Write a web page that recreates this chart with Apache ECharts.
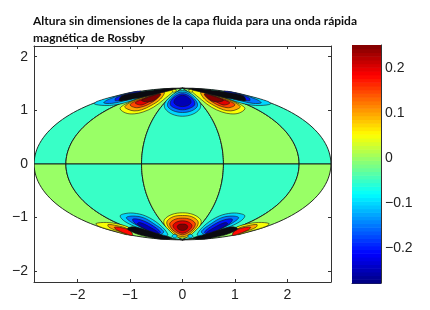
<!DOCTYPE html>
<html><head><meta charset="utf-8">
<style>html,body{margin:0;padding:0;background:#fff}#c{width:430px;height:310px}</style>
<script src="https://cdn.jsdelivr.net/npm/echarts@6/dist/echarts.min.js"></script>
</head><body><div id="c"></div>
<script>
const titleLines = ["Altura sin dimensiones de la capa fluida para una onda rápida","magnética de Rossby"];
const xTicks = [-2,-1,0,1,2];
const yTicks = [-2,-1,0,1,2];
const barTicks = [-0.2,-0.1,0,0.1,0.2];
const colourMin = -0.277, colourMax = 0.251;
// meridian zero-contours (longitude in units of pi) and the level of each sector
const sectorEdges = [-1,-0.75,-0.25,0.25,0.75,1];
const northSectorLevels = [-0.05,0,-0.05,0,-0.05];
const southSectorLevels = [0,-0.05,0,-0.05,0];
// contour outlines: [level, [x,y]...]
const northCentre = [
 [-0.1,[[0,0.89],[0.2,0.93],[0.33,1.03],[0.34,1.13],[0.24,1.25],[0.1,1.35],[0,1.37]]],
 [-0.15,[[0,0.96],[0.17,0.99],[0.28,1.07],[0.27,1.16],[0.18,1.26],[0.08,1.33],[0,1.34]]],
 [-0.2,[[0,1.01],[0.14,1.04],[0.23,1.1],[0.22,1.18],[0.14,1.26],[0,1.31]]],
 [-0.25,[[0,1.07],[0.1,1.09],[0.16,1.14],[0.15,1.2],[0.08,1.26],[0,1.28]]]
];
const southCentre = [
 [0.05,[[0,-0.91],[0.2,-0.94],[0.34,-1.03],[0.35,-1.12],[0.24,-1.25],[0.1,-1.36],[0,-1.38]]],
 [0.1,[[0,-0.96],[0.17,-0.98],[0.29,-1.06],[0.29,-1.14],[0.2,-1.25],[0.08,-1.34],[0,-1.35]]],
 [0.15,[[0,-1.01],[0.14,-1.03],[0.24,-1.1],[0.23,-1.17],[0.16,-1.25],[0,-1.32]]],
 [0.2,[[0,-1.06],[0.11,-1.08],[0.18,-1.14],[0.16,-1.2],[0.09,-1.26],[0,-1.29]]],
 [0.25,[[0,-1.12],[0.07,-1.13],[0.1,-1.17],[0.07,-1.22],[0,-1.24]]]
];
const northCool = [
 [-0.1,[[0.75,1.27],[1.1,1.14],[1.3,1.1],[1.48,1.09],[1.68,1.12],[1.62,1.17],[1.3,1.26],[0.9,1.34]]],
 [-0.15,[[0.85,1.27],[1.15,1.17],[1.35,1.13],[1.5,1.14],[1.42,1.2],[1.15,1.29],[0.85,1.35]]],
 [-0.2,[[0.8,1.3],[1.1,1.21],[1.28,1.18],[1.27,1.23],[1.05,1.31],[0.8,1.36]]]
];
const northWarm = [
 [0.05,[[0.36,1.2],[0.55,1.06],[0.75,0.97],[0.92,0.935],[1.08,0.95],[1.19,1.03],[1.12,1.1],[0.9,1.2],[0.6,1.29],[0.3,1.37],[0.15,1.39]]],
 [0.1,[[0.42,1.21],[0.6,1.09],[0.78,1.01],[0.92,0.99],[1.04,1.02],[1.1,1.07],[0.95,1.17],[0.65,1.27],[0.35,1.34]]],
 [0.15,[[0.47,1.23],[0.65,1.11],[0.85,1.05],[0.96,1.07],[1.0,1.11],[0.85,1.19],[0.6,1.27],[0.42,1.31]]],
 [0.2,[[0.5,1.25],[0.7,1.13],[0.8,1.1],[0.9,1.14],[0.75,1.21],[0.55,1.28]]],
 [0.25,[[0.42,1.29],[0.55,1.18],[0.7,1.16],[0.78,1.19],[0.6,1.26],[0.45,1.31]]]
];
const northDense = [[0.12,1.4],[0.4,1.33],[0.7,1.26],[0.95,1.21],[1.2,1.18],[1.16,1.27],[0.9,1.33],[0.5,1.385],[0.2,1.41]];
const southCool = [
 [-0.1,[[0.28,-1.31],[0.45,-1.12],[0.7,-0.97],[0.94,-0.915],[1.12,-0.93],[1.19,-0.97],[1.1,-1.07],[0.85,-1.19],[0.55,-1.3],[0.35,-1.36]]],
 [-0.15,[[0.36,-1.26],[0.55,-1.11],[0.75,-1.0],[0.95,-0.97],[1.07,-1.0],[0.95,-1.1],[0.7,-1.22],[0.45,-1.32]]],
 [-0.2,[[0.42,-1.27],[0.6,-1.13],[0.8,-1.04],[0.95,-1.03],[0.9,-1.11],[0.7,-1.22],[0.5,-1.31]]],
 [-0.25,[[0.45,-1.29],[0.65,-1.16],[0.82,-1.09],[0.86,-1.12],[0.7,-1.22],[0.55,-1.3]]]
];
const southWarm = [
 [0.05,[[1.0,-1.2],[1.22,-1.12],[1.45,-1.09],[1.65,-1.11],[1.6,-1.16],[1.3,-1.25],[1.0,-1.32]]],
 [0.1,[[1.05,-1.21],[1.25,-1.15],[1.42,-1.13],[1.4,-1.18],[1.2,-1.26],[1.05,-1.31]]],
 [0.18,[[1.0,-1.24],[1.2,-1.18],[1.3,-1.18],[1.25,-1.23],[1.05,-1.31],[0.95,-1.33]]]
];
const southDense = [[0.2,-1.38],[0.5,-1.29],[0.72,-1.22],[0.95,-1.17],[1.05,-1.21],[0.85,-1.31],[0.6,-1.37],[0.35,-1.405]];
// tiny speckles left by the contouring next to the poles
const northSpecks = [[0.05,[[0.12,1.36],[0.17,1.34],[0.2,1.37],[0.14,1.39]]]];
const southSpecks = [[-0.1,[[0.1,-1.34],[0.16,-1.31],[0.2,-1.35],[0.14,-1.38]]]];

function jet(t){
  const c=v=>Math.round(255*Math.max(0,Math.min(1,v)));
  return `rgb(${c(Math.min(4*t-1.5,-4*t+4.5))},${c(Math.min(4*t-0.5,-4*t+3.5))},${c(Math.min(4*t+0.5,-4*t+2.5))})`;
}
const levelColour = l => jet((l-colourMin)/(colourMax-colourMin));
function hammer(lon,lat){
  const d=Math.sqrt(1+Math.cos(lat)*Math.cos(lon/2));
  return [2*Math.SQRT2*Math.cos(lat)*Math.sin(lon/2)/d, Math.SQRT2*Math.sin(lat)/d];
}
function meridian(lonPi,a,b){
  const p=[];for(let i=0;i<=40;i++){p.push(hammer(lonPi*Math.PI,a+(b-a)*i/40));}return p;
}
function sector(i,north){
  const l=sectorEdges[i],r=sectorEdges[i+1],h=Math.PI/2,a=north?0:-h,b=north?h:0;
  return meridian(l,a,b).concat(meridian(r,b,a));
}
const shapes=[];
sectorEdges.slice(0,-1).forEach((_,i)=>{
  shapes.push({pts:sector(i,true),fill:levelColour(northSectorLevels[i]),smooth:0,lw:0.9});
  shapes.push({pts:sector(i,false),fill:levelColour(southSectorLevels[i]),smooth:0,lw:0.9});
});
const flipX=p=>[-p[0],p[1]];
function addSide(list){
  list.forEach(([lv,ring])=>{
    shapes.push({pts:ring,fill:levelColour(lv),smooth:0.35});
    shapes.push({pts:ring.map(flipX),fill:levelColour(lv),smooth:0.35});
  });
}
function addCentre(list){
  list.forEach(([lv,half])=>{
    const pts=half.concat(half.slice(1,-1).reverse().map(flipX));
    shapes.push({pts,fill:levelColour(lv),smooth:0.35});
  });
}
addSide(northCool);addSide(northWarm);
shapes.push({pts:northDense,fill:'#0a0a10',smooth:0.35});
shapes.push({pts:northDense.map(flipX),fill:'#0a0a10',smooth:0.35});
addCentre(northCentre);addSide(northSpecks);
addSide(southWarm);addSide(southCool);
shapes.push({pts:southDense,fill:'#0a0a10',smooth:0.35});
shapes.push({pts:southDense.map(flipX),fill:'#0a0a10',smooth:0.35});
addCentre(southCentre);addSide(southSpecks);

const colourSteps=[];for(let i=0;i<64;i++)colourSteps.push(i);
const minusLabel=v=>String(v).replace('-','\u2212');
const labelFont={color:'#222',fontFamily:'Liberation Sans',fontSize:14};
const chart=echarts.init(document.getElementById('c'),null,{renderer:'canvas'});
const boxAxis=(over)=>({type:'value',gridIndex:0,min:over.min,max:over.max,position:over.position,
  axisLine:{show:true,onZero:false,lineStyle:{color:'#333',width:1}},
  axisTick:{show:true,inside:true,length:3,lineStyle:{color:'#333',width:1},customValues:over.ticks},
  axisLabel:{show:!!over.labels,margin:over.margin,formatter:minusLabel,customValues:over.ticks,...labelFont},
  splitLine:{show:false}});
chart.setOption({
  animation:false,
  backgroundColor:'#fff',
  title:{text:titleLines.join('\n'),left:33,top:13,padding:0,
    textStyle:{fontFamily:'Lato',fontWeight:'bold',fontSize:12,lineHeight:16.5,color:'#111'}},
  grid:[{left:34,top:46,width:297,height:236},{left:352,top:45,width:29,height:238}],
  xAxis:[
    boxAxis({min:-2.83,max:2.83,position:'bottom',ticks:xTicks,labels:true,margin:6}),
    boxAxis({min:-2.83,max:2.83,position:'top',ticks:xTicks,labels:false}),
    {type:'value',gridIndex:1,min:0,max:1,axisLine:{show:true,onZero:false,lineStyle:{color:'#333'}},axisTick:{show:false},axisLabel:{show:false},splitLine:{show:false}}
  ],
  yAxis:[
    boxAxis({min:-2.2,max:2.2,position:'left',ticks:yTicks,labels:true,margin:6}),
    boxAxis({min:-2.2,max:2.2,position:'right',ticks:yTicks,labels:false}),
    {type:'value',gridIndex:1,min:colourMin,max:colourMax,position:'right',
     axisLine:{show:true,onZero:false,lineStyle:{color:'#333'}},
     axisTick:{show:true,inside:true,length:3,lineStyle:{color:'#333'},customValues:barTicks},
     axisLabel:{margin:4,formatter:minusLabel,customValues:barTicks,...labelFont},splitLine:{show:false}}
  ],
  series:[
    {type:'custom',xAxisIndex:0,yAxisIndex:0,coordinateSystem:'cartesian2d',silent:true,clip:true,
     data:shapes.map((_,i)=>[i]),encode:{x:[],y:[]},
     renderItem:(p,api)=>{
       const s=shapes[p.dataIndex];
       return {type:'polygon',shape:{points:s.pts.map(q=>api.coord(q)),smooth:s.smooth||0},
         style:{fill:s.fill,stroke:'#151515',lineWidth:s.lw||0.6}};
     }},
    {type:'custom',xAxisIndex:2,yAxisIndex:2,coordinateSystem:'cartesian2d',silent:true,
     data:colourSteps.map(i=>[i]),encode:{x:[],y:[]},
     renderItem:(p,api)=>{
       const i=p.dataIndex,span=colourMax-colourMin;
       const a=api.coord([0,colourMin+span*i/64]),b=api.coord([1,colourMin+span*(i+1)/64]);
       return {type:'rect',shape:{x:a[0],y:b[1],width:b[0]-a[0],height:a[1]-b[1]+0.6},
         style:{fill:jet((i+0.5)/64)}};
     }}
  ]
});
</script></body></html>
